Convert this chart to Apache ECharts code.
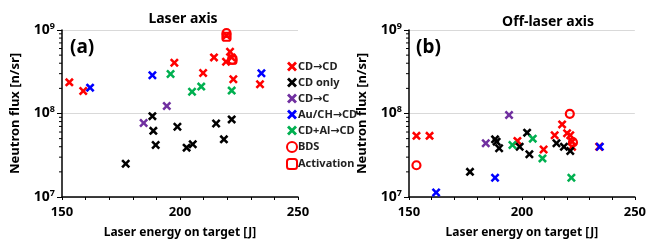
<!DOCTYPE html>
<html>
<head>
<meta charset="utf-8">
<script src="https://cdn.jsdelivr.net/npm/echarts@6/dist/echarts.min.js"></script>
<style>
  html, body { margin: 0; padding: 0; background: #fff; }
  #chart { width: 649px; height: 247px; }
</style>
</head>
<body>
<div id="chart"></div>
<script>
// [energy J, flux n/sr]
// (a) laser axis
const laserCdCd = [[153.1, 2.36e8], [159.0, 1.86e8], [197.6, 4.06e8], [209.8, 3.05e8], [214.4, 4.7e8],
  [221.2, 5.5e8], [219.5, 4.17e8], [221.9, 4.7e8], [222.6, 2.57e8], [233.9, 2.24e8], [219.7, 8.6e8]]
const laserCdOnly = [[177.0, 2.5e7], [188.3, 9.3e7], [188.7, 6.2e7], [189.7, 4.2e7], [198.9, 6.95e7],
  [202.8, 3.9e7], [205.4, 4.28e7], [215.3, 7.6e7], [221.9, 8.5e7], [218.6, 4.9e7]]
const laserCdC = [[184.6, 7.7e7], [194.4, 1.23e8]]
const laserAuCh = [[161.9, 2.04e8], [188.3, 2.87e8], [234.5, 3.03e8]]
const laserCdAl = [[196.0, 2.97e8], [205.1, 1.82e8], [209.0, 2.1e8], [221.9, 1.88e8]]
const laserBds = [[219.7, 9.2e8], [222.2, 4.4e8]]
const laserActivation = [[219.7, 8.3e8], [222.2, 4.4e8]]

// (b) off-laser axis
const offCdCd = [[153.3, 5.4e7], [159.1, 5.4e7], [198.0, 4.7e7], [209.6, 3.7e7], [214.5, 5.5e7],
  [217.8, 7.4e7], [220.0, 5.8e7], [221.4, 5.5e7], [222.2, 4.6e7], [222.2, 4.0e7], [234.2, 4.0e7]]
const offCdOnly = [[177.0, 2.0e7], [188.1, 4.9e7], [188.8, 4.6e7], [189.9, 3.83e7], [199.0, 4.0e7],
  [202.3, 5.9e7], [203.3, 3.25e7], [215.3, 4.4e7], [218.6, 4.0e7], [221.4, 3.55e7]]
const offCdC = [[184.0, 4.4e7], [194.3, 9.6e7]]
const offAuCh = [[162.0, 1.13e7], [188.1, 1.7e7], [234.5, 4.0e7]]
const offCdAl = [[195.8, 4.2e7], [204.8, 5.0e7], [209.1, 2.9e7], [221.9, 1.7e7]]
const offBds = [[153.3, 2.4e7], [221.2, 9.9e7], [222.6, 4.5e7]]

const seriesNames = ['CD→CD', 'CD only', 'CD→C', 'Au/CH→CD', 'CD+Al→CD', 'BDS', 'Activation']
const minorTickValues = [2e7, 3e7, 4e7, 5e7, 6e7, 7e7, 8e7, 9e7, 2e8, 3e8, 4e8, 5e8, 6e8, 7e8, 8e8, 9e8]

const FONT = '"Noto Sans", "DejaVu Sans", sans-serif'
const X_PATH = 'path://M0,2 L2,0 L5,3 L8,0 L10,2 L7,5 L10,8 L8,10 L5,7 L2,10 L0,8 L3,5 Z'

const chart = echarts.init(document.getElementById('chart'), null, { renderer: 'canvas' })

function xAxis(gridIndex) {
  return {
    type: 'value', gridIndex, min: 150, max: 250, interval: 10,
    name: 'Laser energy on target [J]', nameLocation: 'middle', nameGap: 30,
    nameTextStyle: { fontFamily: FONT, fontWeight: 'bold', fontSize: 12, color: '#000' },
    axisLine: { lineStyle: { color: '#000', width: 1.5 } },
    axisTick: { length: 3, lineStyle: { color: '#000' } },
    axisLabel: {
      fontFamily: FONT, fontWeight: 'bold', fontSize: 13, color: '#000', margin: 9,
      formatter: v => (v % 50 === 0 ? String(v) : '')
    },
    splitLine: { show: false }
  }
}

function yAxis(gridIndex) {
  return {
    type: 'log', logBase: 10, gridIndex, min: 1e7, max: 1e9,
    name: 'Neutron flux [n/sr]', nameLocation: 'middle', nameGap: 40, nameRotate: 90,
    nameTextStyle: { fontFamily: FONT, fontWeight: 'bold', fontSize: 13, color: '#000' },
    axisLine: { show: true, lineStyle: { color: '#000', width: 1.5 } },
    axisTick: { length: 5, lineStyle: { color: '#000' } },
    axisLabel: {
      margin: 7,
      formatter: v => '{b|10}{s|' + Math.round(Math.log10(v)) + '}',
      rich: {
        b: { fontFamily: FONT, fontWeight: 'bold', fontSize: 14, color: '#000' },
        s: { fontFamily: FONT, fontWeight: 'bold', fontSize: 9, color: '#000', verticalAlign: 'top', padding: [0, 0, 8, 0] }
      }
    },
    splitLine: { show: true, lineStyle: { color: '#d9d9d9', width: 1 } }
  }
}

function cross(name, color, data, idx) {
  return {
    name, type: 'scatter', xAxisIndex: idx, yAxisIndex: idx, data,
    symbol: X_PATH, symbolSize: 9, itemStyle: { color, opacity: 1 }
  }
}

function ring(name, symbol, data, idx, size) {
  return {
    name, type: 'scatter', xAxisIndex: idx, yAxisIndex: idx, data,
    symbol, symbolSize: size,
    itemStyle: { color: 'rgba(255,255,255,0)', borderColor: '#ff0000', borderWidth: 2.2, opacity: 1 }
  }
}

function minorTicks(idx) {
  return {
    type: 'custom', xAxisIndex: idx, yAxisIndex: idx, silent: true, clip: false,
    data: minorTickValues.map(v => [150, v]),
    renderItem: (params, api) => {
      const p = api.coord([api.value(0), api.value(1)])
      return {
        type: 'line',
        shape: { x1: p[0] - 3, y1: p[1], x2: p[0], y2: p[1] },
        style: { stroke: '#000', lineWidth: 1 }
      }
    }
  }
}

const option = {
  animation: false,
  backgroundColor: '#fff',
  title: [
    { text: 'Laser axis', left: 178, top: 7, textAlign: 'center',
      textStyle: { fontFamily: FONT, fontWeight: 'bold', fontSize: 14, color: '#000' } },
    { text: 'Off-laser axis', left: 543, top: 10, textAlign: 'center',
      textStyle: { fontFamily: FONT, fontWeight: 'bold', fontSize: 14, color: '#000' } }
  ],
  graphic: [
    { type: 'text', left: 70, top: 38, style: { text: '(a)', font: 'bold 19px ' + FONT, fill: '#000' } },
    { type: 'text', left: 416, top: 38, style: { text: '(b)', font: 'bold 19px ' + FONT, fill: '#000' } }
  ],
  legend: {
    data: seriesNames, orient: 'vertical', left: 281, top: 56, itemGap: 5,
    itemWidth: 10, itemHeight: 10,
    textStyle: { fontFamily: FONT, fontSize: 11, fontWeight: 'bold', color: '#222', padding: [0, 0, 0, -4] }
  },
  grid: [
    { left: 62, right: 351, top: 30, bottom: 50 },
    { left: 409, right: 10, top: 30, bottom: 50 }
  ],
  xAxis: [xAxis(0), xAxis(1)],
  yAxis: [yAxis(0), yAxis(1)],
  series: [
    minorTicks(0), minorTicks(1),
    ring('BDS', 'circle', laserBds, 0, 8),
    ring('Activation', 'roundRect', laserActivation, 0, 8),
    cross('CD→CD', '#ff0000', laserCdCd, 0),
    cross('CD only', '#000000', laserCdOnly, 0),
    cross('CD→C', '#7030a0', laserCdC, 0),
    cross('Au/CH→CD', '#0000ff', laserAuCh, 0),
    cross('CD+Al→CD', '#00b050', laserCdAl, 0),
    ring('BDS', 'circle', offBds, 1, 8),
    cross('CD→CD', '#ff0000', offCdCd, 1),
    cross('CD only', '#000000', offCdOnly, 1),
    cross('CD→C', '#7030a0', offCdC, 1),
    cross('Au/CH→CD', '#0000ff', offAuCh, 1),
    cross('CD+Al→CD', '#00b050', offCdAl, 1)
  ]
}

chart.setOption(option)
</script>
</body>
</html>
